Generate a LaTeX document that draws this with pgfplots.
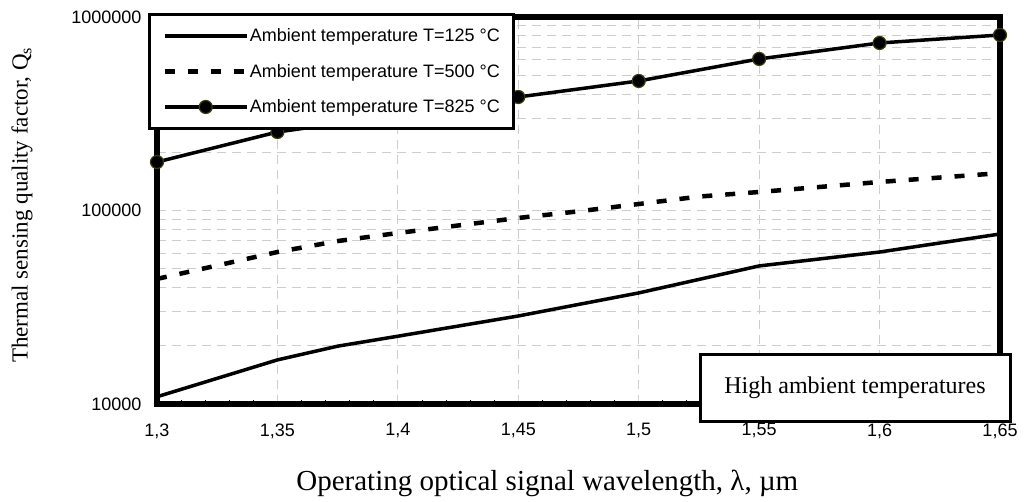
\documentclass[border=0pt]{standalone}
\usepackage{fontspec}
\setmainfont{Liberation Serif}
\newfontfamily\arial{Liberation Sans}
\usepackage{pgfplots}
\pgfplotsset{compat=1.18}
\definecolor{mkedge}{RGB}{60,60,10}
\definecolor{gridc}{RGB}{205,205,205}
\begin{document}
\begin{tikzpicture}
\begin{axis}[
    name=ax,
    scale only axis,
    width=843pt, height=387pt,
    xmin=1.3, xmax=1.65,
    ymode=log, ymin=10000, ymax=1000000,
    clip=false,
    axis line style={line width=6pt},
    xtick={1.3,1.35,1.4,1.45,1.5,1.55,1.6,1.65},
    xticklabels={{1,3},{1,35},{1,4},{1,45},{1,5},{1,55},{1,6},{1,65}},
    ytick={10000,100000,1000000},
    yticklabels={10000,100000,1000000},
    minor x tick num=4,
    xtick pos=bottom, ytick pos=left,
    tick align=inside,
    major tick length=0pt, minor tick length=4pt,
    xtick style={black, line width=0.8pt},
    ytick style={draw=none},
    xmajorgrids, ymajorgrids, yminorgrids,
    grid style={gridc, line width=0.9pt, dash pattern=on 9pt off 6pt},
    /pgf/number format/assume math mode=true,
    xticklabel style={font=\arial\fontsize{18}{18}\selectfont, anchor=north, yshift=-16pt},
    yticklabel style={font=\arial\fontsize{18}{18}\selectfont, anchor=east, xshift=-12pt},
    xlabel={Operating optical signal wavelength, λ, µm},
    xlabel style={font=\fontsize{29}{29}\selectfont, at={(axis description cs:0.463,-0.204)}, anchor=center},
    ylabel={Thermal sensing quality factor, Q\textsubscript{s}},
    ylabel style={font=\fontsize{23}{23}\selectfont, at={(axis description cs:-0.160,0.514)}, anchor=center},
    legend image code/.code={\draw[mark repeat=2,mark phase=2,#1] plot coordinates {(0pt,0pt) (41pt,0pt) (82pt,0pt)};},
    legend cell align=left,
    legend style={at={(rel axis cs:-0.0107,1.01)}, anchor=north west,
        draw=black, line width=3pt, fill=white,
        font=\arial\fontsize{18}{18}\selectfont,
        inner xsep=13pt, inner ysep=13pt, row sep=19pt,
        nodes={inner sep=1pt}},
]
\addplot[black, line width=3.5pt] coordinates {
(1.3,10900) (1.35,16900) (1.375,19900) (1.4,22400) (1.45,28500)
(1.5,37500) (1.55,51700) (1.6,61000) (1.65,75600)};
\addlegendentry{Ambient temperature T=125 °C}
\addplot[black, line width=4.5pt, dash pattern=on 10pt off 13pt] coordinates {
(1.3,44300) (1.35,61000) (1.375,69500) (1.4,76500) (1.45,91500)
(1.475,99000) (1.5,108000) (1.525,118000) (1.55,124600) (1.6,140400) (1.65,156000)};
\addlegendentry{Ambient temperature T=500 °C}
\addplot[black, line width=3.5pt, mark=*, mark size=6.5pt,
    mark options={solid, fill=black, draw=mkedge, line width=1.2pt}] coordinates {
(1.3,178000) (1.35,254500) (1.4,311000) (1.45,386000) (1.5,467000)
(1.55,607000) (1.6,734000) (1.65,807000)};
\addlegendentry{Ambient temperature T=825 °C}
\coordinate (hb) at (rel axis cs:0.828,0.0413);
\end{axis}
\node[draw=black, line width=3pt, fill=white, minimum width=310pt, minimum height=67pt,
    font=\fontsize{24}{24}\selectfont] at (hb) {High ambient temperatures};
\pgfresetboundingbox
\path[use as bounding box] ([xshift=-157pt,yshift=-98pt]ax.south west) rectangle ([xshift=29pt,yshift=17pt]ax.north east);
\end{tikzpicture}
\end{document}
